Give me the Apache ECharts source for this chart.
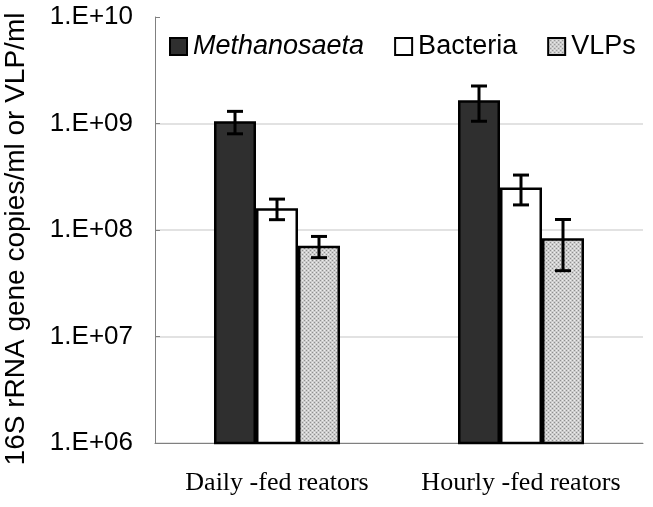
<!DOCTYPE html>
<html>
<head>
<meta charset="utf-8">
<script src="https://cdn.jsdelivr.net/npm/echarts@6/dist/echarts.min.js"></script>
<style>
html,body{margin:0;padding:0;background:#fff;}
#chart{width:653px;height:507px;}
</style>
</head>
<body>
<div id="chart"></div>
<script>
// ---- data ----
var categories = ['Daily -fed reators', 'Hourly -fed reators'];
var seriesNames = ['Methanosaeta', 'Bacteria', 'VLPs'];
var methanosaeta = [1.05e9, 1.65e9];
var methanosaetaErr = [0.25e9, 0.6e9];
var bacteria = [1.6e8, 2.5e8];
var bacteriaErr = [0.35e8, 0.78e8];
var vlps = [7.1e7, 8.35e7];
var vlpsErr = [1.6e7, 4.2e7];
var yTicks = ['1.E+06', '1.E+07', '1.E+08', '1.E+09', '1.E+10'];

// ---- pattern for VLPs ----
function makePattern() {
  var c = document.createElement('canvas');
  c.width = 4; c.height = 4;
  var ctx = c.getContext('2d');
  ctx.fillStyle = '#cdcdcd';
  ctx.fillRect(0, 0, 4, 4);
  ctx.fillStyle = '#8f8f8f';
  ctx.fillRect(0, 0, 1, 1);
  ctx.fillRect(2, 2, 1, 1);
  ctx.fillStyle = '#eeeeee';
  ctx.fillRect(2, 0, 1, 1);
  ctx.fillRect(0, 2, 1, 1);
  return c;
}
var vlpFill = { image: makePattern(), repeat: 'repeat' };

var BAR_W = 42;
var values = [methanosaeta, bacteria, vlps];
var errs = [methanosaetaErr, bacteriaErr, vlpsErr];
var fills = ['#2f2f2f', '#ffffff', vlpFill];

var errData = [];
for (var s = 0; s < 3; s++) {
  for (var i = 0; i < categories.length; i++) {
    errData.push([i, values[s][i], errs[s][i], s]);
  }
}

var chart = echarts.init(document.getElementById('chart'), null, { renderer: 'canvas' });

var series = seriesNames.map(function (n, s) {
  return {
    name: n,
    type: 'bar',
    data: values[s],
    barWidth: BAR_W,
    barGap: '0%',
    itemStyle: { color: fills[s], borderColor: '#000', borderWidth: 2.5 },
    emphasis: { disabled: true },
    z: 2
  };
});

series.push({
  type: 'custom',
  name: 'err',
  data: errData,
  z: 5,
  silent: true,
  renderItem: function (params, api) {
    var cat = api.value(0), v = api.value(1), e = api.value(2), s = api.value(3);
    var off = (s - 1) * BAR_W;
    var top = api.coord([cat, v + e]);
    var bot = api.coord([cat, v - e]);
    var x = top[0] + off;
    var cw = 8;
    var st = { stroke: '#000', lineWidth: 3 };
    return {
      type: 'group',
      children: [
        { type: 'line', shape: { x1: x, y1: top[1], x2: x, y2: bot[1] }, style: st },
        { type: 'line', shape: { x1: x - cw, y1: top[1], x2: x + cw, y2: top[1] }, style: st },
        { type: 'line', shape: { x1: x - cw, y1: bot[1], x2: x + cw, y2: bot[1] }, style: st }
      ]
    };
  }
});

var option = {
  backgroundColor: '#ffffff',
  animation: false,
  grid: { left: 155, right: 10, top: 17, bottom: 64, containLabel: false, outerBoundsMode: 'none' },
  legend: {
    left: 164,
    top: 28,
    itemWidth: 17,
    itemHeight: 17,
    itemGap: 30,
    icon: 'rect',
    textStyle: { fontFamily: 'Liberation Sans, Arial', fontSize: 27, color: '#000', padding: [0, 0, 0, 1] },
    data: [
      { name: 'Methanosaeta', textStyle: { fontStyle: 'italic', fontSize: 27 } },
      { name: 'Bacteria' },
      { name: 'VLPs' }
    ],
    itemStyle: { borderColor: '#000', borderWidth: 2 },
    selectedMode: false
  },
  xAxis: {
    type: 'category',
    data: categories,
    boundaryGap: true,
    axisLine: { lineStyle: { color: '#808080', width: 1 } },
    axisTick: { inside: true, length: 6, lineStyle: { color: '#808080' } },
    axisLabel: { interval: 0, fontFamily: 'Liberation Serif, Times New Roman', fontSize: 26, color: '#000', margin: 27 },
    splitLine: { show: false }
  },
  yAxis: {
    type: 'log',
    logBase: 10,
    min: 1e6,
    max: 1e10,
    name: '16S rRNA gene copies/ml or VLP/ml',
    nameLocation: 'middle',
    nameGap: 125,
    nameTextStyle: { fontFamily: 'Liberation Sans, Arial', fontSize: 28, color: '#000', padding: [0, 18, 0, 0] },
    axisLine: { show: true, lineStyle: { color: '#808080', width: 1 } },
    axisTick: { show: true, inside: true, length: 5, lineStyle: { color: '#808080' } },
    minorTick: { show: false },
    axisLabel: {
      fontFamily: 'Liberation Sans, Arial',
      fontSize: 26,
      color: '#000',
      margin: 22,
      formatter: function (v) {
        var e = Math.round(Math.log10(v));
        return yTicks[e - 6];
      }
    },
    splitLine: { show: true, showMinLine: false, showMaxLine: false, lineStyle: { color: '#d9d9d9', width: 1.5 } }
  },
  series: series
};
chart.setOption(option);
</script>
</body>
</html>
